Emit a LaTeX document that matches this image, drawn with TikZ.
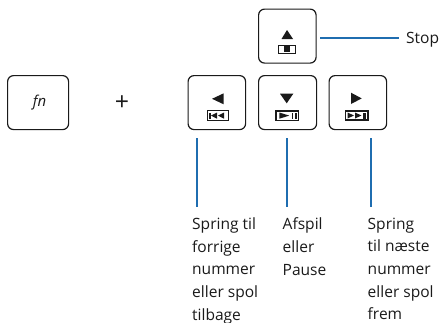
\documentclass[tikz,border=0pt]{standalone}
\usepackage{fontspec}
\setmainfont{Open Sans}
\definecolor{leader}{HTML}{1F6DB0}
\definecolor{ink}{HTML}{1A1A1A}
\tikzset{
  keybox/.style={draw=ink,line width=1.2,rounded corners=6,fill=white,inner sep=0,anchor=north west},
  leaderline/.style={draw=leader,line width=1.2},
  caption/.style={anchor=north west,inner sep=0,align=left,text=ink,font=\fontsize{15.6}{22.8}\selectfont},
  ico/.style={fill=ink,draw=none},
  icobox/.style={draw=ink,line width=1.1,fill=white},
}
\begin{document}
\begin{tikzpicture}[x=1bp,y=-1bp]
\useasboundingbox (0,0) rectangle (441,322);
% keys
\node[keybox,minimum width=61bp,minimum height=54bp] (fn) at (7,75) {};
\node[keybox,minimum width=57.5bp,minimum height=54bp] (stopkey) at (258,8.5) {};
\node[keybox,minimum width=57.5bp,minimum height=54bp] (prevkey) at (187.5,75) {};
\node[keybox,minimum width=58bp,minimum height=54bp] (playkey) at (258,75) {};
\node[keybox,minimum width=57.5bp,minimum height=54bp] (nextkey) at (328.5,75) {};
\node[inner sep=0,text=ink,font=\fontsize{15}{16}\selectfont\itshape] (fnt) at (39.5,103) {fn};
\node[inner sep=0,text=ink,font=\fontsize{25}{26}\selectfont] (plus) at (122,103.5) {+};
% stop icon
\fill[ico] (287,30) -- (293,39) -- (281.5,39) -- cycle;
\draw[icobox] (278.2,45.2) rectangle (295.8,53.4);
\fill[ico] (283.7,46.3) rectangle (290.3,52.3);
% prev icon
\fill[ico] (212,98.8) -- (223.7,93.3) -- (223.7,104.3) -- cycle;
\draw[icobox] (207.5,110.8) rectangle (228.7,120.4);
\fill[ico] (209.3,112.5) rectangle (210.7,118.7);
\fill[ico] (211,115.6) -- (217,112.5) -- (217,118.7) -- cycle;
\fill[ico] (218,115.6) -- (224,112.5) -- (224,118.7) -- cycle;
% play icon
\fill[ico] (280,93.7) -- (293.3,93.7) -- (286.7,103.3) -- cycle;
\draw[icobox] (276,111) rectangle (298.7,120.2);
\fill[ico] (279.3,112.5) -- (289.3,115.6) -- (279.3,118.7) -- cycle;
\fill[ico] (291.5,112.5) rectangle (293.3,118.7);
\fill[ico] (295,112.5) rectangle (297,118.7);
% next icon
\fill[ico] (351,92.7) -- (361.7,98.4) -- (351,104) -- cycle;
\draw[icobox] (345.5,111) rectangle (368,120);
\fill[ico] (347.5,112.5) -- (354,115.5) -- (347.5,118.5) -- cycle;
\fill[ico] (355,112.5) -- (361.5,115.5) -- (355,118.5) -- cycle;
\fill[ico] (362.5,112.5) rectangle (366,118.5);
% captions
\node[caption] (stoplabel) at (406,32) {Stop};
\node[caption] (prevlabel) at (192,217.5) {Spring til\\forrige\\nummer\\eller spol\\tilbage};
\node[caption] (playlabel) at (282.5,217.5) {Afspil\\eller\\Pause};
\node[caption] (nextlabel) at (367.5,217.5) {Spring\\til næste\\nummer\\eller spol\\frem};
% connectors
\coordinate (pa) at (197,138); \coordinate (pb) at (197,207);
\coordinate (ma) at (287,138); \coordinate (mb) at (287,207);
\coordinate (na) at (371,138); \coordinate (nb) at (371,207);
\draw[leaderline] (stopkey.east |- 0,38) ++(3.5,0) -- (399,38);
\draw[leaderline] (pa) -- (pb);
\draw[leaderline] (ma) -- (mb);
\draw[leaderline] (na) -- (nb);
\end{tikzpicture}
\end{document}
